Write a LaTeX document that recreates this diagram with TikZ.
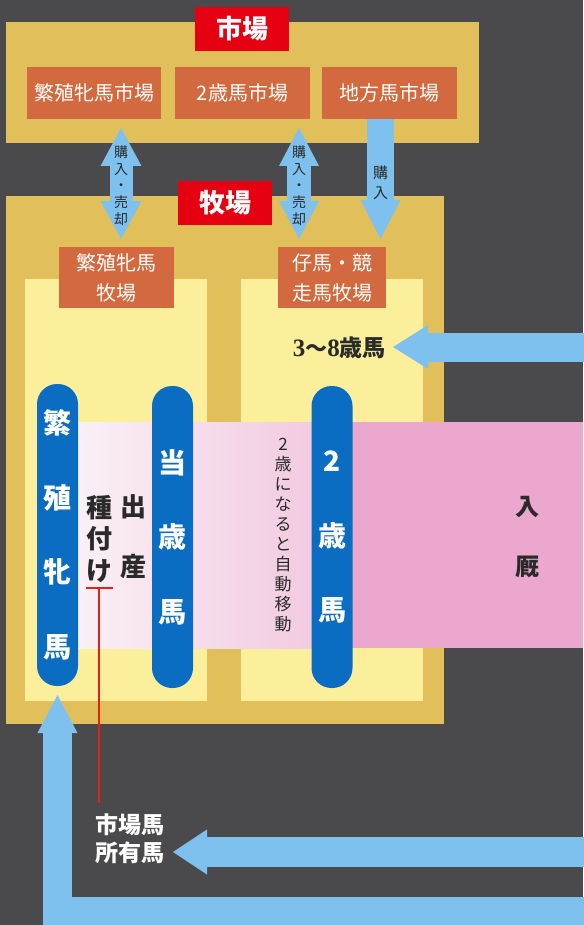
\documentclass[tikz,border=0pt]{standalone}
\usepackage{fontspec}
\newfontfamily\jp{Noto Sans CJK JP}
\newfontfamily\ser{Liberation Serif}
\usetikzlibrary{arrows.meta}
\definecolor{bg}{HTML}{4A4A4C}
\definecolor{ochre}{HTML}{E1C05C}
\definecolor{redc}{HTML}{E50012}
\definecolor{orng}{HTML}{D2693F}
\definecolor{panel}{HTML}{FCEF9C}
\definecolor{pillblue}{HTML}{0B6DC1}
\definecolor{abl}{HTML}{7EC1EF}
\definecolor{pkL}{HTML}{FBF3F7}
\definecolor{pkM}{HTML}{F1C6DF}
\definecolor{pkR}{HTML}{ECA7CF}
\definecolor{ink}{HTML}{2A2A2A}
\definecolor{redline}{HTML}{E32119}
\tikzset{
  area/.style={fill=ochre, inner sep=0pt},
  titlebox/.style={fill=redc, text=white, inner sep=0pt, minimum width=94pt, minimum height=44pt, font=\jp\bfseries\fontsize{26}{26}\selectfont},
  obox/.style={fill=orng, text=white, inner sep=0pt, align=center, font=\jp\fontsize{20}{30}\selectfont},
  panelbox/.style={fill=panel, inner sep=0pt, minimum width=182pt, minimum height=422pt},
  pill/.style={fill=pillblue, text=white, rounded corners=20pt, minimum width=41pt, minimum height=302pt, inner sep=0pt, align=center, font=\jp\bfseries\fontsize{28}{74.5}\selectfont},
  arrowtext/.style={text=ink, inner sep=0pt, align=center, font=\jp\fontsize{14}{16.7}\selectfont},
  darktext/.style={text=ink, inner sep=0pt, align=center},
  fat/.style={draw=abl, line join=miter, line cap=butt},
}
\begin{document}
\begin{tikzpicture}[x=1pt,y=-1pt]
\useasboundingbox (0,0) rectangle (583,925);
\fill[bg] (0,0) rectangle (583,925);
% market area
\node[area, minimum width=473pt, minimum height=121pt] (market) at (242.5,82.5) {};
\node[titlebox] (mtitle) at (242,29) {市場};
\node[obox, minimum width=134pt, minimum height=52pt] (m1) at (94,93) {繁殖牝馬市場};
\node[obox, minimum width=135pt, minimum height=52pt] (m2) at (242.5,93) {2歳馬市場};
\node[obox, minimum width=135pt, minimum height=52pt] (m3) at (389.5,93) {地方馬市場};
% farm area
\node[area, minimum width=438pt, minimum height=528pt] (farm) at (225,460) {};
\node[panelbox] (pl) at (116,490) {};
\node[panelbox] (pr) at (332,490) {};
\node[titlebox] (ftitle) at (225,203) {牧場};
\node[obox, minimum width=115pt, minimum height=61pt] (f1) at (116.5,277.5) {繁殖牝馬\\牧場};
\node[obox, minimum width=108pt, minimum height=61pt] (f2) at (332,277.5) {仔馬・競\\走馬牧場};
% pink band
\shade[left color=pkL, right color=pkM] (60,422) rectangle (340,648);
\fill[pkR] (340,422) rectangle (583,648);
% pills
\node[pill] (p1) at (57.5,535) {繁\\殖\\牝\\馬};
\node[pill] (p2) at (172.5,537) {当\\歳\\馬};
\node[pill] (p3) at (332,537) {2\\歳\\馬};
% texts in band
\node[darktext, font=\jp\fontsize{17}{20}\selectfont] (move) at (283,535) {2\\歳\\に\\な\\る\\と\\自\\動\\移\\動};
\node[darktext, font=\jp\bfseries\fontsize{26}{60}\selectfont] (birth) at (133,537) {出\\産};
\node[darktext, font=\jp\bfseries\fontsize{26}{31.5}\selectfont] (mate) at (99,539) {種\\付\\け};
\node[darktext, font=\jp\bfseries\fontsize{24}{60}\selectfont] (nyu) at (527,537) {入\\厩};
% arrow coordinates
\coordinate (d1t) at (121,128);
\coordinate (d1b) at (121,239);
\coordinate (d2t) at (299,128);
\coordinate (d2b) at (299,239);
\coordinate (s3b) at (380.5,239);
\coordinate (a38s) at (590,347);
\coordinate (a38e) at (393,347);
\coordinate (hs) at (590,852);
\coordinate (he) at (173,852);
\coordinate (ls) at (590,911);
\coordinate (lc) at (57.5,911);
\coordinate (le) at (57.5,695);
% fat arrows
\draw[fat, line width=23pt, {Triangle[width=41pt,length=38pt,line width=0pt]}-{Triangle[width=41pt,length=38pt,line width=0pt]}] (d1t) -- (d1b);
\draw[fat, line width=24pt, {Triangle[width=40pt,length=38pt,line width=0pt]}-{Triangle[width=40pt,length=38pt,line width=0pt]}] (d2t) -- (d2b);
\draw[fat, line width=27pt, -{Triangle[width=40pt,length=39pt,line width=0pt]}] (m3.south -| s3b) -- (s3b);
\draw[fat, line width=29pt, -{Triangle[width=44pt,length=35pt,line width=0pt]}] (a38s) -- (a38e);
\draw[fat, line width=30pt, -{Triangle[width=45pt,length=34pt,line width=0pt]}] (hs) -- (he);
\draw[fat, line width=29pt, -{Triangle[width=40pt,length=38pt,line width=0pt]}] (ls) -- (lc) -- (le);
% arrow texts
\node[arrowtext] (t1) at (121,185.5) {購\\入\\・\\売\\却};
\node[arrowtext] (t2) at (299,185.5) {購\\入\\・\\売\\却};
\node[arrowtext, font=\jp\fontsize{15}{20}\selectfont] (t3) at (380.5,183) {購\\入};
\node[darktext, anchor=east] (age) at (386,348) {{\ser\bfseries\fontsize{25}{25}\selectfont 3}{\jp\bfseries\fontsize{22}{25}\selectfont 〜}{\ser\bfseries\fontsize{25}{25}\selectfont 8}{\jp\bfseries\fontsize{23}{25}\selectfont 歳馬}};
\node[text=white, inner sep=0pt, align=center, font=\jp\bfseries\fontsize{23}{28}\selectfont] (owner) at (130,839) {市場馬\\所有馬};
% red T
\coordinate (tl) at (86,588);
\coordinate (tr) at (113,588);
\coordinate (tm) at (99,588);
\draw[redline, line width=2.5pt] (tl) -- (tr);
\draw[redline, line width=2.5pt] (tm) -- (tm |- 0,803);
\end{tikzpicture}
\end{document}
